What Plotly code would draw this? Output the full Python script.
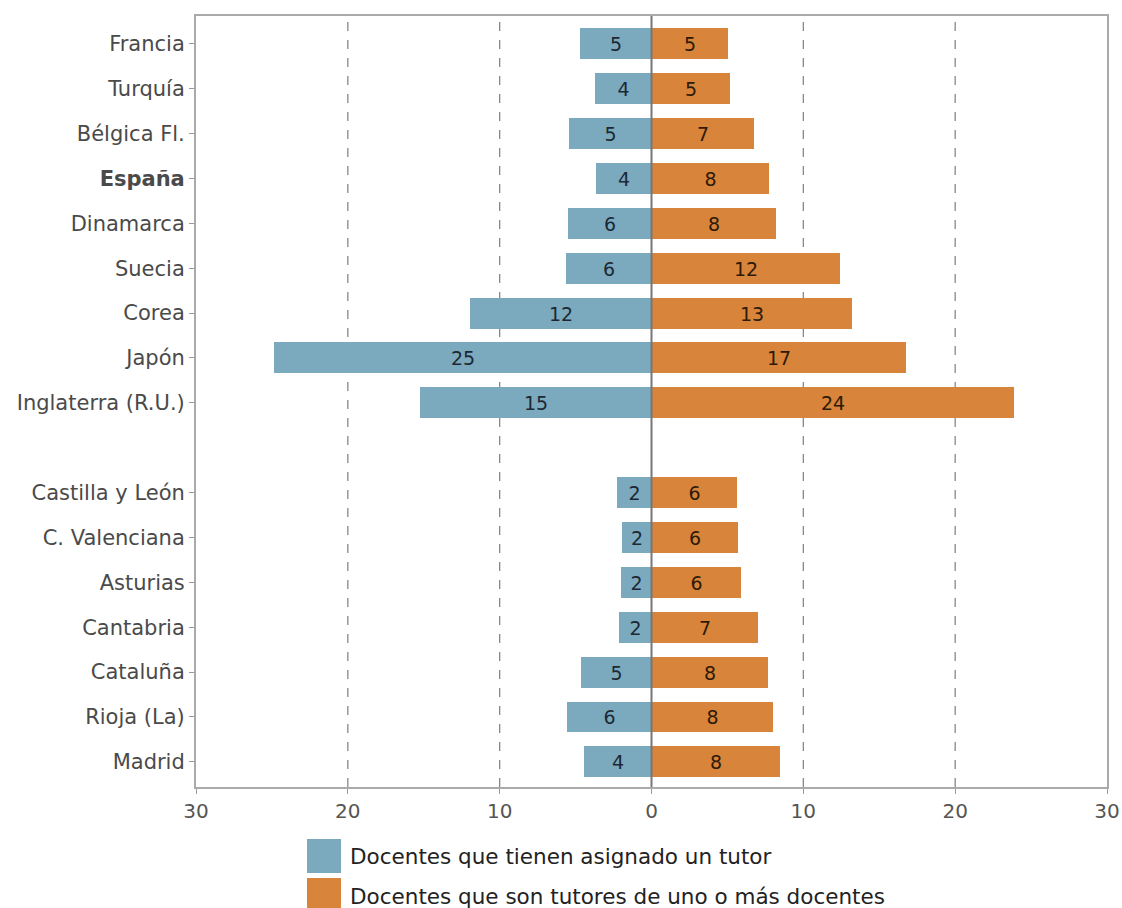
import plotly.graph_objects as go

countries = ["Francia", "Turquía", "Bélgica Fl.", "España", "Dinamarca", "Suecia",
             "Corea", "Japón", "Inglaterra (R.U.)"]
regions = ["Castilla y León", "C. Valenciana", "Asturias", "Cantabria", "Cataluña",
           "Rioja (La)", "Madrid"]

# Docentes que tienen asignado un tutor
mentee_countries = [4.74, 3.75, 5.46, 3.68, 5.53, 5.66, 11.97, 24.87, 15.26]
mentee_regions = [2.30, 1.97, 2.04, 2.17, 4.67, 5.59, 4.47]
# Docentes que son tutores de uno o más docentes
mentor_countries = [5.07, 5.2, 6.78, 7.76, 8.22, 12.43, 13.22, 16.78, 23.88]
mentor_regions = [5.66, 5.72, 5.92, 7.04, 7.7, 8.03, 8.49]

series_names = ["Docentes que tienen asignado un tutor",
                "Docentes que son tutores de uno o más docentes"]
x_ticks = [-30, -20, -10, 0, 10, 20, 30]

labels = countries + regions
mentee = mentee_countries + mentee_regions
mentor = mentor_countries + mentor_regions
# positions: one empty slot between the two groups
ypos = list(range(len(countries))) + [len(countries) + 1 + i for i in range(len(regions))]

BLUE = "#7BAABF"
ORANGE = "#D8843A"
FONT = "DejaVu Sans, Verdana, sans-serif"

W, H = 1122, 908
ML, MR, MT, MB = 196, 15, 16, 121

fig = go.Figure()
fig.add_trace(go.Bar(
    y=ypos, x=[-v for v in mentee], orientation="h", width=0.69,
    marker=dict(color=BLUE, line=dict(width=0)), name=series_names[0],
    text=[str(round(v)) for v in mentee], textposition="inside",
    insidetextanchor="middle", textangle=0, constraintext="none",
    textfont=dict(size=19, color="#1c2833", family=FONT), showlegend=False,
))
fig.add_trace(go.Bar(
    y=ypos, x=mentor, orientation="h", width=0.69,
    marker=dict(color=ORANGE, line=dict(width=0)), name=series_names[1],
    text=[str(round(v)) for v in mentor], textposition="inside",
    insidetextanchor="middle", textangle=0, constraintext="none",
    textfont=dict(size=19, color="#2e1a08", family=FONT), showlegend=False,
))

ticktext = ["<b>%s</b>" % l if l == "España" else l for l in labels]

fig.update_layout(
    template="none",
    width=W, height=H,
    margin=dict(l=ML, r=MR, t=MT, b=MB, autoexpand=False),
    paper_bgcolor="white", plot_bgcolor="white",
    barmode="overlay", bargap=0,
    font=dict(family=FONT, size=20, color="#555555"),
    xaxis=dict(
        range=[-30, 30], tickvals=x_ticks, ticktext=[str(abs(v)) for v in x_ticks],
        automargin=False,
        showgrid=False, zeroline=False, showline=True, linecolor="#aaaaaa", linewidth=2,
        mirror=True, ticks="outside", ticklen=5, tickcolor="#999999",
        tickfont=dict(size=20, color="#555555"),
    ),
    yaxis=dict(
        range=[16.56, -0.62], tickvals=ypos, ticktext=ticktext,
        automargin=False,
        showgrid=False, zeroline=False, showline=True, linecolor="#aaaaaa", linewidth=2,
        mirror=True, ticks="outside", ticklen=5, tickcolor="#999999",
        tickfont=dict(size=21, color="#4a4a4a"),
    ),
)

# dashed gridlines
for v in [-20, -10, 10, 20]:
    fig.add_shape(type="line", xref="x", yref="paper", x0=v, x1=v, y0=0, y1=1,
                  line=dict(color="#888888", width=1.3, dash="dash"), layer="below")
# zero line
fig.add_shape(type="line", xref="x", yref="paper", x0=0, x1=0, y0=0, y1=1,
              line=dict(color="#777777", width=2), layer="above")

# custom legend (large swatches)
plot_h = H - MT - MB
plot_w = W - ML - MR
def px_x(px):
    return (px - ML) / plot_w
def px_y(py):
    return (H - MB - py) / plot_h

for i, (name, col) in enumerate(zip(series_names, [BLUE, ORANGE])):
    top = 839 + i * 39
    fig.add_shape(type="rect", xref="paper", yref="paper",
                  x0=px_x(307), x1=px_x(341), y0=px_y(top + 34), y1=px_y(top),
                  fillcolor=col, line=dict(width=0))
    fig.add_annotation(xref="paper", yref="paper", x=px_x(348), y=px_y(top + 18),
                       text=name, showarrow=False, xanchor="left", yanchor="middle",
                       font=dict(size=21.5, color="#222222", family=FONT))

fig.write_html("out.html", config={"displayModeBar": False},
               post_script="document.body.style.margin='0';document.body.style.overflow='hidden';")
